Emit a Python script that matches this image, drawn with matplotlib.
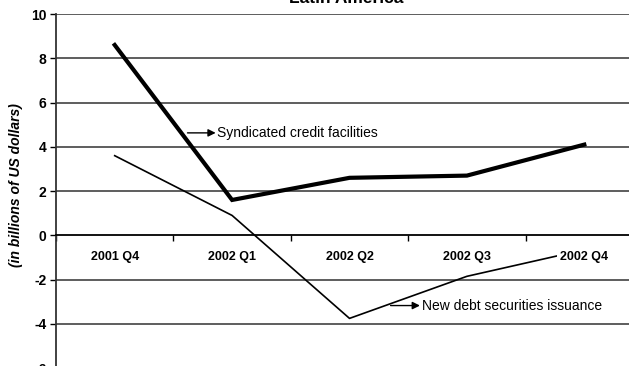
import matplotlib
matplotlib.use("Agg")
import matplotlib.pyplot as plt
import numpy as np

plt.rcParams['font.family'] = ['Liberation Sans', 'DejaVu Sans']

quarters = ["2001 Q4", "2002 Q1", "2002 Q2", "2002 Q3", "2002 Q4"]
syndicated = [8.6, 1.6, 2.6, 2.7, 4.1]
new_debt = [3.6, 0.9, -3.75, -1.85, -0.65]
y_ticks = [-6, -4, -2, 0, 2, 4, 6, 8, 10]

fig = plt.figure(figsize=(6.29, 3.66), dpi=100)
ax = fig.add_axes([56 / 629, -2.2 / 366, 587 / 629, 354.2 / 366])

x = np.arange(len(quarters))
ax.set_xlim(-0.5, len(quarters) - 0.5)
ax.set_ylim(-6, 10)

# horizontal gridlines
for v in y_ticks:
    if v != 0:
        ax.axhline(v, color="#505050", lw=1.3, zorder=1)

ax.plot(x, syndicated, color="black", lw=3.0, solid_joinstyle="miter", zorder=3)
ax.plot(x, new_debt, color="black", lw=1.2, zorder=3)

# category axis sits on zero
ax.spines["bottom"].set_position(("data", 0))
ax.spines["bottom"].set_linewidth(1.3)
ax.spines["left"].set_linewidth(1.3)
ax.spines["left"].set_color("#333333")
ax.spines["top"].set_visible(False)
ax.spines["right"].set_visible(False)

ax.set_xticks(np.arange(len(quarters) + 1) - 0.5)
ax.set_xticklabels([])
ax.tick_params(axis="x", direction="out", length=4, width=1)

ax.set_yticks(y_ticks)
ax.set_yticklabels([str(v) for v in y_ticks], fontsize=10, fontweight="bold")
ax.tick_params(axis="y", direction="out", length=4, width=1, pad=3)

for i, q in enumerate(quarters):
    ax.text(i, -0.97, q, ha="center", va="center", fontsize=9, fontweight="bold",
            zorder=5, bbox=dict(facecolor="white", edgecolor="none", pad=2.5))

arrow = dict(arrowstyle="-|>", color="black", lw=1.0, mutation_scale=11,
             shrinkA=0, shrinkB=0)

ax.annotate("", xy=(0.86, 4.63), xytext=(0.62, 4.63), zorder=6, arrowprops=arrow)
ax.text(0.875, 4.63, "Syndicated credit facilities", fontsize=10, va="center",
        ha="left", zorder=6)

ax.annotate("", xy=(2.6, -3.17), xytext=(2.35, -3.17), zorder=6, arrowprops=arrow)
ax.text(2.62, -3.17, "New debt securities issuance", fontsize=10, va="center",
        ha="left", zorder=6)

ax.set_ylabel("(in billions of US dollars)", fontsize=10, fontweight="bold",
              fontstyle="italic")
ax.yaxis.set_label_coords(-33 / 587, (366 - 2.2 - 181) / 354.2)

fig.text(346 / 629, 1 - 3 / 366, "Latin America", ha="center", va="baseline",
         fontsize=12.5, fontweight="bold")

fig.savefig("out.png", dpi=100)
